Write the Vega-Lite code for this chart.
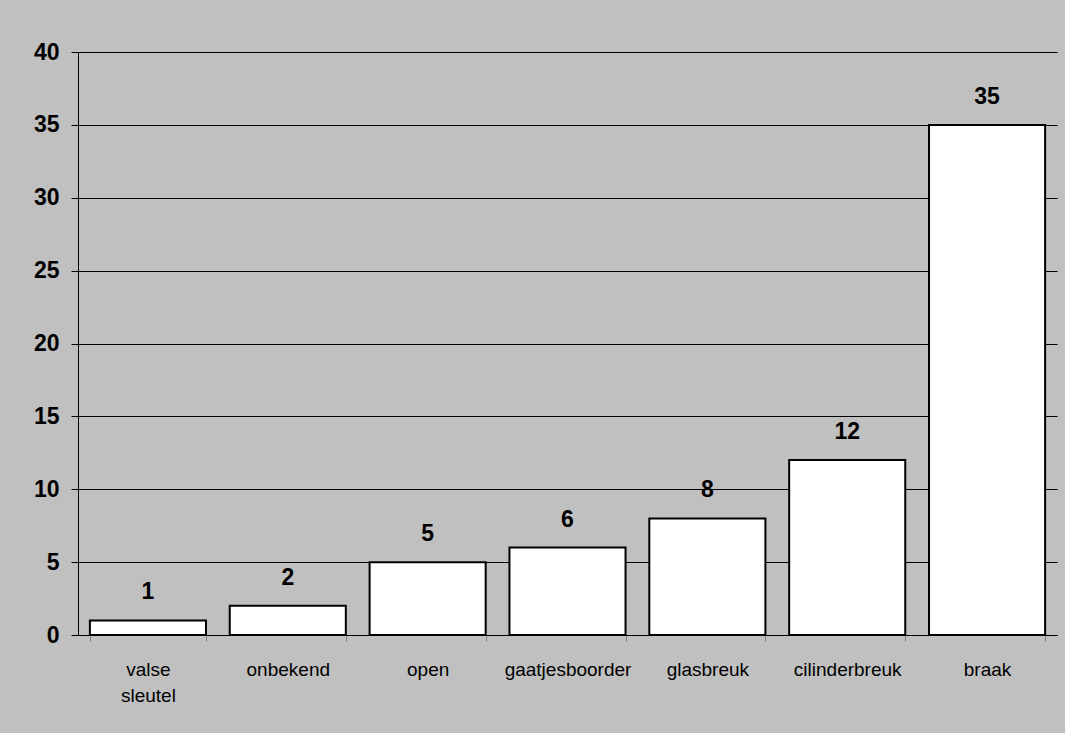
{
  "$schema": "https://vega.github.io/schema/vega-lite/v6.json",
  "width": 979,
  "height": 583,
  "autosize": {"type": "none"},
  "padding": {"left": 78, "top": 52, "right": 8, "bottom": 98},
  "background": "#C0C0C0",
  "config": {
    "view": {"stroke": null},
    "font": "Liberation Sans"
  },
  "data": {
    "values": [
      {"type": "valse sleutel", "count": 1},
      {"type": "onbekend", "count": 2},
      {"type": "open", "count": 5},
      {"type": "gaatjesboorder", "count": 6},
      {"type": "glasbreuk", "count": 8},
      {"type": "cilinderbreuk", "count": 12},
      {"type": "braak", "count": 35}
    ]
  },
  "encoding": {
    "x": {
      "field": "type",
      "type": "nominal",
      "sort": null,
      "scale": {"paddingInner": 0.17, "paddingOuter": 0.085},
      "axis": {
        "title": null,
        "labelAngle": 0,
        "labelFont": "Liberation Sans",
        "labelFontSize": 19,
        "labelColor": "black",
        "labelPadding": 19,
        "labelLineHeight": 26,
        "labelExpr": "datum.value == 'valse sleutel' ? ['valse', 'sleutel'] : datum.value",
        "tickBand": "extent",
        "tickColor": "#808080",
        "tickSize": 6,
        "domainColor": "black",
        "domainWidth": 1,
        "labelBaseline": "top"
      }
    },
    "y": {
      "field": "count",
      "type": "quantitative",
      "scale": {"domain": [0, 40]},
      "axis": {
        "title": null,
        "values": [0, 5, 10, 15, 20, 25, 30, 35, 40],
        "labelFont": "Liberation Sans",
        "labelFontSize": 23,
        "labelFontWeight": "bold",
        "labelColor": "black",
        "labelPadding": 12,
        "tickColor": "black",
        "tickSize": 7,
        "domainColor": "black",
        "grid": true,
        "gridColor": "black",
        "gridWidth": 1
      }
    }
  },
  "layer": [
    {
      "mark": {"type": "bar", "fill": "white", "stroke": "black", "strokeWidth": 2}
    },
    {
      "mark": {
        "type": "text",
        "baseline": "bottom",
        "dy": -16,
        "font": "Liberation Sans",
        "fontSize": 23,
        "fontWeight": "bold",
        "color": "black"
      },
      "encoding": {"text": {"field": "count", "type": "quantitative"}}
    }
  ]
}
